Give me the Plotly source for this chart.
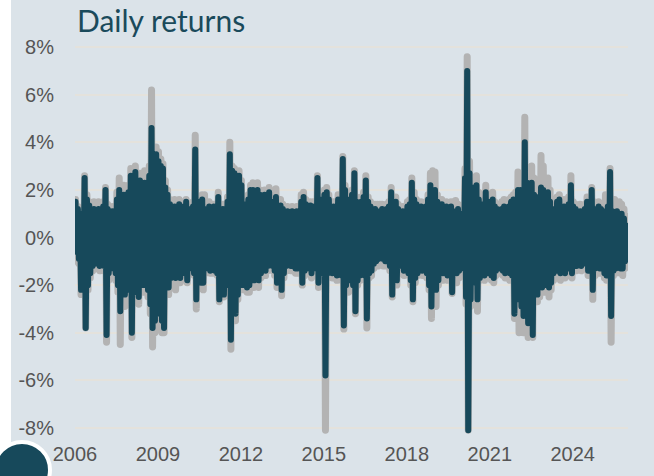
import plotly.graph_objects as go
import pandas as pd

# Monthly high / low of daily returns (%), Jan 2006 .. Dec 2025
dark_hi = [
    1.5, 1.2, 0.7, 1.0, 2.5, 1.6, 1.35, 1.0, 1.2, 1.1, 1.2, 1.0,      # 2006
    1.3, 2.0, 1.2, 1.0, 1.1, 1.0, 1.6, 2.0, 1.8, 1.8, 1.6, 1.9,       # 2007
    2.6, 2.2, 2.75, 2.0, 2.4, 1.8, 2.3, 2.0, 2.6, 4.6, 3.0, 3.5,      # 2008
    3.2, 3.0, 2.9, 2.1, 1.8, 1.4, 1.3, 1.3, 1.2, 1.4, 1.3, 1.2,       # 2009
    1.5, 1.2, 1.1, 1.3, 3.7, 1.4, 1.5, 1.6, 1.2, 1.0, 1.3, 1.2,       # 2010
    1.3, 1.1, 1.7, 1.1, 1.2, 1.0, 1.5, 3.5, 2.8, 2.7, 2.5, 2.6,       # 2011
    2.2, 1.4, 1.4, 1.6, 2.0, 2.0, 1.5, 2.0, 1.8, 1.4, 1.8, 1.3,       # 2012
    1.9, 1.5, 1.3, 1.7, 1.3, 1.35, 1.2, 1.1, 1.1, 1.0, 1.1, 1.0,      # 2013
    1.1, 1.0, 1.5, 1.7, 1.4, 1.2, 1.35, 1.3, 1.2, 2.5, 1.6, 1.5,      # 2014
    1.8, 1.9, 1.6, 1.2, 1.3, 1.2, 1.6, 1.4, 3.3, 2.0, 1.6, 1.5,       # 2015
    1.8, 2.7, 1.5, 1.4, 1.5, 1.7, 2.4, 1.5, 1.3, 1.2, 1.2, 1.1,       # 2016
    1.1, 1.2, 1.0, 1.2, 1.3, 1.9, 1.5, 1.5, 1.2, 1.0, 1.1, 1.0,       # 2017
    1.3, 1.4, 2.3, 1.6, 1.4, 1.2, 1.3, 1.2, 1.3, 1.6, 2.2, 2.0,       # 2018
    2.0, 1.5, 1.4, 1.4, 1.2, 1.3, 1.2, 1.3, 1.1, 1.0, 1.2, 1.0,       # 2019
    1.0, 2.5, 7.0, 2.7, 2.1, 1.6, 2.2, 1.6, 1.4, 1.2, 1.9, 1.3,       # 2020
    1.5, 1.6, 1.3, 1.2, 1.1, 1.2, 1.3, 1.2, 1.3, 1.5, 1.6, 1.6,       # 2021
    2.0, 2.0, 1.8, 4.0, 2.3, 1.8, 2.3, 1.8, 1.6, 1.7, 2.1, 2.0,       # 2022
    1.3, 1.9, 1.5, 1.2, 1.2, 1.5, 1.6, 1.2, 1.3, 1.1, 1.4, 2.2,       # 2023
    1.3, 1.2, 1.1, 1.1, 1.0, 1.2, 1.5, 1.1, 2.0, 1.2, 1.1, 1.3,       # 2024
    1.2, 1.0, 1.1, 1.3, 2.75, 1.1, 1.0, 1.1, 1.0, 1.0, 0.8, 0.5,      # 2025
]
dark_lo = [
    -0.6, -0.9, -2.2, -1.5, -3.8, -2.0, -1.5, -1.2, -1.1, -1.0, -1.2, -1.0,
    -1.2, -4.1, -1.5, -1.2, -1.3, -1.5, -2.0, -3.1, -2.0, -2.4, -2.2, -2.0,
    -4.0, -2.3, -2.1, -2.5, -1.9, -2.0, -1.9, -2.2, -2.8, -3.8, -3.5, -3.2,
    -3.0, -3.5, -3.8, -1.8, -2.1, -1.7, -1.6, -1.7, -1.5, -1.7, -1.5, -1.4,
    -1.8, -1.3, -1.2, -1.5, -2.6, -1.6, -1.9, -1.9, -1.3, -1.2, -1.4, -1.3,
    -1.4, -1.5, -2.6, -1.3, -2.4, -1.4, -2.0, -4.3, -3.0, -3.2, -2.4, -2.0,
    -2.0, -1.6, -2.1, -2.0, -1.8, -1.8, -1.5, -1.8, -1.5, -1.2, -1.4, -1.2,
    -1.0, -1.2, -1.4, -1.9, -1.6, -2.2, -1.5, -1.2, -1.0, -1.2, -1.2, -1.3,
    -1.3, -1.2, -1.9, -1.4, -1.3, -1.2, -1.5, -1.3, -1.2, -1.9, -1.4, -1.5,
    -5.8, -1.5, -1.4, -1.5, -1.3, -1.6, -1.5, -1.6, -3.7, -2.0, -1.8, -1.6,
    -2.0, -3.1, -1.8, -1.6, -1.4, -1.6, -3.4, -1.5, -1.4, -1.1, -1.0, -0.9,
    -0.8, -0.9, -1.0, -1.0, -1.2, -2.4, -1.3, -1.8, -1.2, -1.1, -1.4, -1.2,
    -1.5, -1.8, -2.6, -1.7, -1.5, -1.3, -1.4, -1.3, -1.5, -2.0, -2.9, -2.2,
    -2.2, -1.8, -1.4, -1.5, -1.3, -1.6, -1.4, -2.3, -1.3, -1.5, -1.4, -1.2,
    -1.3, -2.5, -8.1, -2.6, -1.9, -1.7, -2.6, -1.7, -1.5, -1.6, -1.5, -1.4,
    -1.6, -1.7, -1.4, -1.3, -1.3, -1.4, -1.5, -1.4, -1.5, -1.6, -3.2, -2.2,
    -2.6, -2.9, -3.3, -3.2, -3.6, -3.0, -4.1, -2.0, -2.4, -2.0, -2.1, -2.0,
    -1.5, -2.1, -1.9, -1.5, -1.4, -1.4, -1.5, -1.3, -1.5, -1.3, -1.3, -1.5,
    -1.2, -1.2, -1.1, -1.2, -1.0, -1.1, -1.4, -1.2, -2.2, -1.3, -1.2, -1.3,
    -1.3, -1.5, -1.6, -1.5, -3.3, -1.4, -1.3, -1.2, -1.3, -1.3, -1.0, -0.8,
]
gray_hi = [
    1.6, 1.3, 0.9, 1.2, 2.6, 1.8, 1.5, 1.3, 1.5, 1.4, 1.5, 1.3,
    1.5, 2.1, 1.4, 1.2, 1.3, 1.3, 1.9, 2.5, 2.1, 2.2, 2.0, 2.2,
    2.9, 2.5, 3.0, 2.3, 2.7, 2.1, 2.8, 2.3, 3.0, 6.2, 3.5, 3.8,
    3.6, 3.3, 3.1, 2.4, 2.0, 1.6, 1.5, 1.6, 1.4, 1.6, 1.5, 1.4,
    1.6, 1.4, 1.3, 1.5, 4.3, 1.6, 1.7, 1.8, 1.8, 1.3, 1.5, 1.4,
    1.4, 1.3, 1.9, 1.3, 1.4, 1.2, 1.7, 4.0, 3.0, 2.9, 2.7, 2.8,
    2.4, 1.6, 1.6, 1.8, 2.2, 2.3, 1.7, 2.3, 2.0, 1.6, 2.0, 1.5,
    2.1, 1.7, 1.5, 2.05, 1.5, 1.6, 1.4, 1.3, 1.3, 1.2, 1.3, 1.2,
    1.3, 1.2, 1.8, 1.9, 1.6, 1.4, 1.5, 1.5, 1.4, 2.6, 1.8, 1.7,
    2.0, 2.1, 1.8, 1.4, 1.5, 1.4, 1.8, 1.6, 3.4, 2.2, 1.8, 1.7,
    2.0, 2.8, 1.7, 1.6, 1.7, 1.9, 2.6, 1.7, 1.5, 1.4, 1.4, 1.4,
    1.4, 1.4, 1.3, 1.4, 1.5, 2.1, 1.7, 1.7, 1.4, 1.3, 1.3, 1.2,
    1.5, 1.6, 2.5, 1.9, 1.6, 1.4, 1.5, 1.4, 1.5, 1.8, 2.7, 2.8,
    2.75, 1.8, 1.6, 1.6, 1.4, 1.5, 1.4, 1.5, 1.4, 1.56, 1.4, 1.2,
    1.3, 2.9, 7.6, 3.2, 2.4, 1.9, 2.6, 1.9, 1.7, 1.5, 2.2, 1.6,
    1.7, 1.9, 1.5, 1.4, 1.3, 1.5, 1.6, 1.4, 1.6, 1.7, 1.8, 1.9,
    2.75, 2.5, 2.4, 5.05, 2.8, 2.5, 3.0, 2.5, 2.2, 2.4, 3.45, 3.0,
    1.8, 2.5, 2.0, 1.5, 1.5, 1.7, 1.8, 1.5, 1.6, 1.4, 1.7, 2.6,
    1.5, 1.4, 1.3, 1.4, 1.2, 1.4, 1.7, 1.4, 2.1, 1.5, 1.4, 1.5,
    1.4, 1.3, 1.8, 1.6, 2.9, 1.4, 1.6, 1.4, 1.5, 1.4, 1.2, 0.9,
]
gray_lo = [
    -1.0, -1.1, -2.4, -1.7, -3.8, -2.2, -1.7, -1.4, -1.3, -1.2, -1.4, -1.2,
    -1.4, -4.4, -1.8, -1.4, -1.5, -1.8, -2.3, -4.5, -2.3, -2.9, -2.5, -2.3,
    -4.2, -2.6, -2.4, -2.8, -2.2, -2.3, -2.3, -2.5, -3.2, -4.6, -4.0, -3.5,
    -3.4, -4.0, -4.0, -2.1, -2.4, -1.9, -1.8, -2.2, -1.7, -1.9, -1.7, -1.6,
    -1.9, -1.5, -1.4, -1.6, -3.0, -1.8, -2.1, -2.2, -1.5, -1.4, -1.5, -1.5,
    -1.5, -1.6, -2.7, -1.4, -2.5, -1.5, -2.2, -4.7, -3.3, -3.5, -2.6, -2.2,
    -2.2, -1.8, -2.3, -2.3, -2.0, -2.1, -1.7, -2.1, -1.7, -1.4, -1.6, -1.4,
    -1.2, -1.4, -1.6, -2.1, -1.8, -2.45, -1.7, -1.4, -1.2, -1.4, -1.4, -1.5,
    -1.5, -1.4, -2.0, -1.6, -1.5, -1.4, -1.7, -1.5, -1.4, -2.1, -1.6, -1.7,
    -8.1, -1.7, -1.6, -1.7, -1.5, -1.8, -1.7, -1.8, -3.85, -2.3, -2.3, -1.8,
    -2.2, -3.2, -2.0, -1.8, -1.6, -1.8, -3.8, -1.7, -1.6, -1.3, -1.2, -1.2,
    -1.1, -1.2, -1.2, -1.2, -1.4, -2.5, -1.5, -2.0, -1.4, -1.3, -1.6, -1.4,
    -1.6, -2.0, -2.7, -1.9, -1.6, -1.5, -1.6, -1.5, -1.7, -2.2, -3.4, -2.9,
    -2.9, -2.0, -1.6, -1.8, -1.5, -1.8, -1.6, -2.35, -1.6, -1.9, -1.7, -1.5,
    -1.6, -2.8, -8.1, -2.9, -2.1, -1.9, -3.1, -1.8, -1.7, -1.8, -1.7, -1.6,
    -1.8, -1.9, -1.6, -1.5, -1.5, -1.6, -1.7, -1.6, -1.8, -1.8, -3.4, -2.4,
    -4.0, -3.5, -4.0, -3.8, -4.2, -3.4, -4.2, -2.6, -2.7, -2.5, -2.3, -2.3,
    -1.8, -2.5, -2.2, -1.8, -1.7, -1.7, -1.8, -1.6, -1.7, -1.6, -1.6, -1.7,
    -1.4, -1.4, -1.3, -1.4, -1.2, -1.3, -1.6, -1.4, -2.6, -1.6, -1.5, -1.5,
    -1.5, -1.7, -1.8, -1.7, -4.4, -1.6, -1.5, -1.4, -1.5, -1.6, -1.3, -1.1,
]

y_tickvals = [8, 6, 4, 2, 0, -2, -4, -6, -8]
y_ticktext = ["8%", "6%", "4%", "2%", "0%", "-2%", "-4%", "-6%", "-8%"]
x_tickyears = [2006, 2009, 2012, 2015, 2018, 2021, 2024]

months = pd.date_range("2006-01-01", periods=len(dark_hi), freq="MS")


def zigzag(hi, lo):
    xs, ys = [], []
    for m, h, l in zip(months, hi, lo):
        xs.append(m + pd.Timedelta(days=7))
        ys.append(h)
        xs.append(m + pd.Timedelta(days=21))
        ys.append(l)
    return xs, ys


DARK = "#17495b"
GRAY = "#b3b3b3"
BG = "#dbe3e9"
TICKFONT = dict(family="Liberation Sans, Arial, sans-serif", size=20, color="#555555")

gx, gy = zigzag(gray_hi, gray_lo)
dx, dy = zigzag(dark_hi, dark_lo)

fig = go.Figure()
fig.add_trace(go.Scatter(x=gx, y=gy, mode="lines",
                         line=dict(color=GRAY, width=7), showlegend=False,
                         hoverinfo="skip"))
fig.add_trace(go.Scatter(x=dx, y=dy, mode="lines",
                         line=dict(color=DARK, width=6), showlegend=False,
                         hoverinfo="skip"))

L, R, T, B = 75, 26, 40, 41
W = 654 - L - R
H = 476 - T - B


def px_x(p):
    return (p - L) / W


def px_y(p):
    return (476 - B - p) / H


fig.update_layout(
    width=654, height=476,
    margin=dict(l=L, r=R, t=T, b=B, pad=0),
    paper_bgcolor=BG, plot_bgcolor=BG,
    title=dict(text="Daily returns", x=77 / 654, xanchor="left", xref="container",
               y=1 - 21 / 476, yanchor="middle", yref="container",
               font=dict(family="Lato", size=30, color="#1a4a5b")),
    xaxis=dict(range=["2006-01-01", "2025-12-31"],
               tickvals=[f"{y}-01-01" for y in x_tickyears],
               ticktext=[str(y) for y in x_tickyears],
               showgrid=False, zeroline=False, showline=False,
               ticks="outside", ticklen=1, tickcolor="rgba(0,0,0,0)",
               tickfont=TICKFONT, automargin=False),
    yaxis=dict(range=[-8.3, 8.3], tickvals=y_tickvals, ticktext=y_ticktext,
               showgrid=True, gridcolor="#e4e2dc", gridwidth=2,
               zeroline=False, showline=False,
               ticks="outside", ticklen=16, tickcolor="rgba(0,0,0,0)",
               tickfont=TICKFONT, automargin=False),
    shapes=[
        dict(type="rect", xref="paper", yref="paper",
             x0=px_x(-20), x1=px_x(11), y0=px_y(520), y1=px_y(-20),
             fillcolor="white", line=dict(width=0), layer="above"),
        dict(type="circle", xref="paper", yref="paper",
             x0=px_x(-6), x1=px_x(50), y0=px_y(498), y1=px_y(442),
             fillcolor=DARK, line=dict(color="white", width=4), layer="above"),
    ],
)

post_js = """
document.body.style.margin = '0';
document.body.style.overflow = 'hidden';
document.querySelectorAll('.scatterlayer path.js-line').forEach(function (p) {
  p.style.strokeLinejoin = 'round';
  p.style.strokeLinecap = 'round';
});
"""

fig.write_html("out.html", post_script=post_js,
               config={"displayModeBar": False, "staticPlot": True})
